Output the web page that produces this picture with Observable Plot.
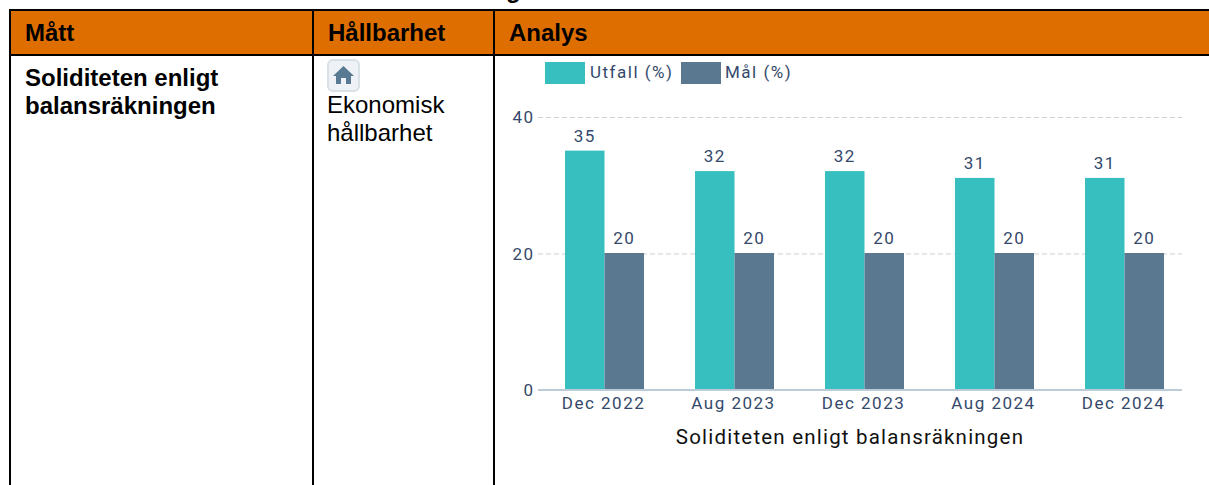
<!DOCTYPE html>
<html lang="sv"><head><meta charset="utf-8">
<script src="https://cdn.jsdelivr.net/npm/d3@7"></script>
<script src="https://cdn.jsdelivr.net/npm/@observablehq/plot@0.6"></script>
<style>
html,body{margin:0;padding:0;background:#fff;overflow:hidden}
#page{position:relative;width:1209px;height:485px;overflow:hidden;font-family:"Liberation Sans",Arial,sans-serif;color:#000}
.a{position:absolute;white-space:nowrap}
.line{position:absolute;background:#000}
.lg{position:absolute;font:17px Roboto,sans-serif;letter-spacing:1.5px;color:#34496b;white-space:nowrap}
#chart{position:absolute;left:495px;top:56px}
#chart svg{overflow:visible}
</style></head><body>
<div id="page">
<div class="a" style="left:10px;top:-24px;font-weight:bold;font-size:24px">Soliditeten mot mål för kommunens hela segmentet</div>
<div class="a" style="left:9px;top:11px;width:1200px;height:43px;background:#DF6E00"></div>
<div class="line" style="left:9px;top:9px;width:1200px;height:2px"></div>
<div class="line" style="left:9px;top:54px;width:1200px;height:2px"></div>
<div class="line" style="left:9px;top:9px;width:2px;height:476px"></div>
<div class="line" style="left:312px;top:9px;width:2px;height:476px"></div>
<div class="line" style="left:493px;top:9px;width:2px;height:476px"></div>
<div class="a" style="left:25px;top:19px;font-weight:bold;font-size:24px">Mått</div>
<div class="a" style="left:328px;top:19px;font-weight:bold;font-size:24px">Hållbarhet</div>
<div class="a" style="left:509px;top:19px;font-weight:bold;font-size:24px">Analys</div>
<div class="a" style="left:25px;top:64px;font-weight:bold;font-size:24px;line-height:27.5px">Soliditeten enligt<br>balansräkningen</div>
<svg class="a" style="left:327px;top:59px;filter:blur(0.6px)" width="33" height="33" viewBox="0 0 33 33">
<rect x="1" y="1" width="31" height="31" rx="5" fill="#eef2f6" stroke="#d9e0e6" stroke-width="2"/>
<path d="M16.5 7 L27 17 L24 17 L24 25 L19 25 L19 19 L14 19 L14 25 L9 25 L9 17 L6 17 Z" fill="#587a92"/>
</svg>
<div class="a" style="left:327px;top:91px;font-size:24px;line-height:28px">Ekonomisk<br>hållbarhet</div>
<div class="a" style="left:545px;top:62px;width:40px;height:22px;background:#37BEBE"></div>
<div class="lg" style="left:590px;top:62px">Utfall (%)</div>
<div class="a" style="left:681px;top:62px;width:40px;height:22px;background:#5B7891"></div>
<div class="lg" style="left:725px;top:62px">Mål (%)</div>
<div id="chart"></div>
<div class="a" style="left:650px;top:425px;width:400px;text-align:center;font:20.5px Roboto,sans-serif;letter-spacing:1.2px;color:#111">Soliditeten enligt balansräkningen</div>
</div>
<script>
const periods = ["Dec 2022","Aug 2023","Dec 2023","Aug 2024","Dec 2024"];
const utfall = [35,32,32,31,31];
const mal = [20,20,20,20,20];
const tealColor = "#37BEBE", slateColor = "#5B7891", inkColor = "#34496b";
const rowsU = periods.map((p,i)=>({p,v:utfall[i]}));
const rowsM = periods.map((p,i)=>({p,v:mal[i]}));
const halfBar = 39.5;
const chart = Plot.plot({
  width:714,height:429,marginLeft:43,marginRight:27,marginTop:60.5,marginBottom:95.5,
  style:{fontFamily:"Roboto, sans-serif",fontSize:"17px",letterSpacing:"1.5px",color:inkColor,background:"transparent"},
  x:{domain:periods,range:[69.2,669.2],paddingInner:0.393,paddingOuter:0,label:null},
  y:{domain:[0,40],ticks:[0,20,40],label:null},
  marks:[
    Plot.gridY([20,40],{stroke:"#c9d0d9",strokeOpacity:1,strokeDasharray:"5,3",dy:0.5}),
    Plot.barY(rowsU,{x:"p",y:"v",fill:tealColor,insetRight:halfBar}),
    Plot.barY(rowsM,{x:"p",y:"v",fill:slateColor,insetLeft:halfBar}),
    Plot.ruleY([0],{stroke:"#bccbd8",strokeWidth:2}),
    Plot.text(rowsU,{x:"p",y:"v",text:"v",dx:-halfBar/2-0.5,dy:-15,fill:inkColor}),
    Plot.text(rowsM,{x:"p",y:"v",text:"v",dx:halfBar/2-0.5,dy:-15,fill:inkColor}),
    Plot.axisY({ticks:[0,20,40],tickSize:0,tickPadding:4,label:null,fill:inkColor,dy:1}),
    Plot.axisX({tickSize:0,tickPadding:7,label:null,fill:inkColor,dx:-1.5})
  ]
});
document.getElementById("chart").append(chart);
</script>
</body></html>
